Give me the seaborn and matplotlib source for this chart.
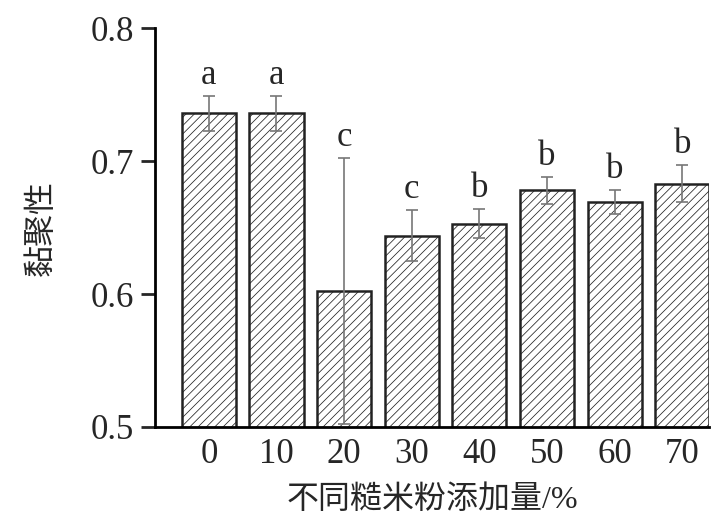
import matplotlib

matplotlib.use("Agg")
import matplotlib.pyplot as plt
import pandas as pd
import seaborn as sns

# brown rice flour addition levels and cohesiveness
levels = ["0", "10", "20", "30", "40", "50", "60", "70"]
cohesiveness = [0.736, 0.736, 0.602, 0.644, 0.653, 0.678, 0.669, 0.683]
errors = [0.013, 0.013, 0.100, 0.019, 0.011, 0.010, 0.009, 0.014]
letters = ["a", "a", "c", "c", "b", "b", "b", "b"]

sns.set_style("ticks")
plt.rcParams["font.family"] = ["Liberation Serif", "Noto Sans CJK SC"]
plt.rcParams["hatch.linewidth"] = 0.55
plt.rcParams["axes.unicode_minus"] = False

df = pd.DataFrame({"level": levels, "value": cohesiveness})

fig = plt.figure(figsize=(7.23, 5.22), dpi=100)
ax = fig.add_axes([0.214, 0.182, 0.767, 0.764])

sns.barplot(
    data=df,
    x="level",
    y="value",
    color="white",
    edgecolor="#222222",
    linewidth=1.8,
    width=0.8,
    errorbar=None,
    ax=ax,
)
for p in ax.patches:
    p.set_hatch("////")

xs = range(len(levels))
ax.errorbar(
    xs,
    cohesiveness,
    yerr=errors,
    fmt="none",
    ecolor="#777777",
    elinewidth=1.2,
    capsize=4,
    capthick=1.2,
    zorder=5,
)
for x, v, e, t in zip(xs, cohesiveness, errors, letters):
    ax.text(x, v + e + 0.003, t, ha="center", va="bottom", fontsize=25)

ax.set_ylim(0.5, 0.8)
ax.set_xlim(-0.8, 7.4)
ax.set_yticks([0.5, 0.6, 0.7, 0.8])
ax.set_yticklabels(["0.5", "0.6", "0.7", "0.8"])
ax.tick_params(axis="y", direction="out", length=10, width=2, labelsize=25, pad=5)
ax.tick_params(axis="x", length=0, labelsize=25, pad=8)

sns.despine(ax=ax)
for side in ["left", "bottom"]:
    ax.spines[side].set_linewidth(2)
    ax.spines[side].set_color("black")

ax.set_xlabel("不同糙米粉添加量/%", fontsize=23, labelpad=10)
ax.set_ylabel("黏聚性", fontsize=23, labelpad=24)

fig.savefig("out.png", dpi=100)
